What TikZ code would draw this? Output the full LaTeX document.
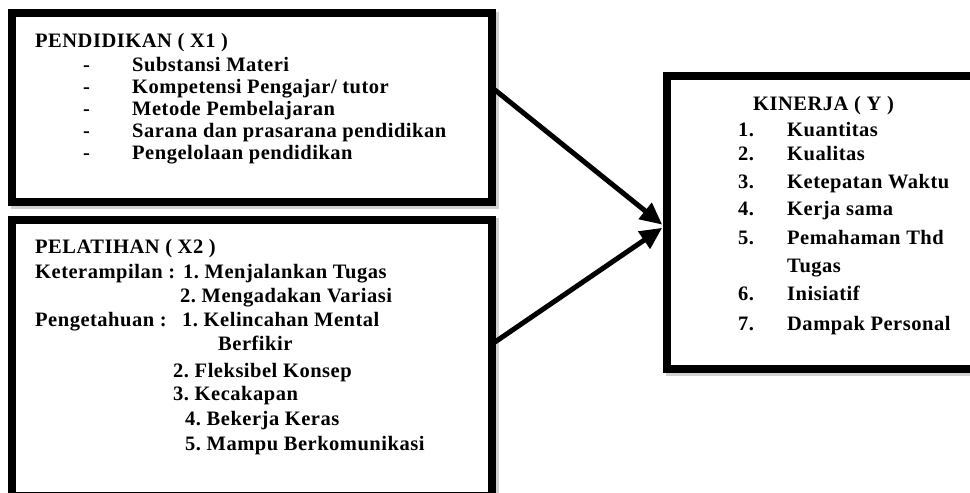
\documentclass[tikz,border=0pt]{standalone}
\usepackage{fontspec}
\setmainfont{Liberation Serif}[LetterSpace=2.5]
\usetikzlibrary{arrows.meta}
\tikzset{
  box/.style={draw=black, line width=8pt, fill=white, inner sep=0pt},
  shadowbox/.style={draw=black!18, line width=8pt, inner sep=0pt},
  txt/.style={anchor=base west, inner sep=0pt, font=\bfseries\fontsize{20.5}{22}\selectfont\frenchspacing},
  arr/.style={line width=5pt, -{Triangle[length=22pt,width=20pt]}, shorten >=1pt}
}
\begin{document}
\begin{tikzpicture}[x=1pt,y=-1pt]
\useasboundingbox (0,0) rectangle (970,493);
\clip (0,0) rectangle (970,493);
% shadows
\node[shadowbox, minimum width=480pt, minimum height=189pt] at (254.5,110) {};
\node[shadowbox, minimum width=480pt, minimum height=276.5pt] at (254.5,360.25) {};
\node[shadowbox, minimum width=308pt, minimum height=293.5pt] at (823.5,224.75) {};
% boxes
\node[box, minimum width=480pt, minimum height=189pt] (b1) at (252,107.5) {};
\node[box, minimum width=480pt, minimum height=276.5pt] (b2) at (252,357.75) {};
\node[box, minimum width=308pt, minimum height=293.5pt] (b3) at (821,222.25) {};
% connectors
\coordinate (s1) at (495,90);
\coordinate (s2) at (495,342);
\draw[arr] (s1) -- ([yshift=-3pt]b3.west);
\draw[arr] (s2) -- ([yshift=-5pt]b3.west);
% box 1 text
\node[txt] (p0) at (35,47) {PENDIDIKAN ( X1 )};
\node[txt] (d1) at (83,71.5) {-};
\node[txt] (d2) at (83,93.5) {-};
\node[txt] (d3) at (83,115.5) {-};
\node[txt] (d4) at (83,137.5) {-};
\node[txt] (d5) at (83,159.5) {-};
\node[txt] (p1) at (132,71.5) {Substansi Materi};
\node[txt] (p2) at (132,93.5) {Kompetensi Pengajar/ tutor};
\node[txt] (p3) at (132,115.5) {Metode Pembelajaran};
\node[txt] (p4) at (132,137.5) {Sarana dan prasarana pendidikan};
\node[txt] (p5) at (132,159.5) {Pengelolaan pendidikan};
% box 2 text
\node[txt] (q0) at (35,253.3) {PELATIHAN ( X2 )};
\node[txt] (q1) at (35,278.3) {Keterampilan :};
\node[txt] (q1b) at (183,278.3) {1. Menjalankan Tugas};
\node[txt] (q2) at (180,302.3) {2. Mengadakan Variasi};
\node[txt] (q3) at (35,326.7) {Pengetahuan :};
\node[txt] (q3b) at (182,326.7) {1. Kelincahan Mental};
\node[txt] (q4) at (218,350.7) {Berfikir};
\node[txt] (q5) at (173,377.3) {2. Fleksibel Konsep};
\node[txt] (q6) at (173,400.7) {3. Kecakapan};
\node[txt] (q7) at (185,425) {4. Bekerja Keras};
\node[txt] (q8) at (185,450) {5. Mampu Berkomunikasi};
% box 3 text
\node[txt] (r0) at (753,110) {KINERJA ( Y )};
\node[txt] (n1) at (738,136) {1.};
\node[txt] (n2) at (738,160) {2.};
\node[txt] (n3) at (738,188.3) {3.};
\node[txt] (n4) at (738,215.7) {4.};
\node[txt] (n5) at (738,244) {5.};
\node[txt] (n6) at (738,300.7) {6.};
\node[txt] (n7) at (738,330) {7.};
\node[txt] (r1) at (787,136) {Kuantitas};
\node[txt] (r2) at (787,160) {Kualitas};
\node[txt] (r3) at (787,188.3) {Ketepatan Waktu};
\node[txt] (r4) at (787,215.7) {Kerja sama};
\node[txt] (r5) at (787,244) {Pemahaman Thd};
\node[txt] (r5b) at (787,272.3) {Tugas};
\node[txt] (r6) at (787,300.7) {Inisiatif};
\node[txt] (r7) at (787,330) {Dampak Personal};
\end{tikzpicture}
\end{document}
